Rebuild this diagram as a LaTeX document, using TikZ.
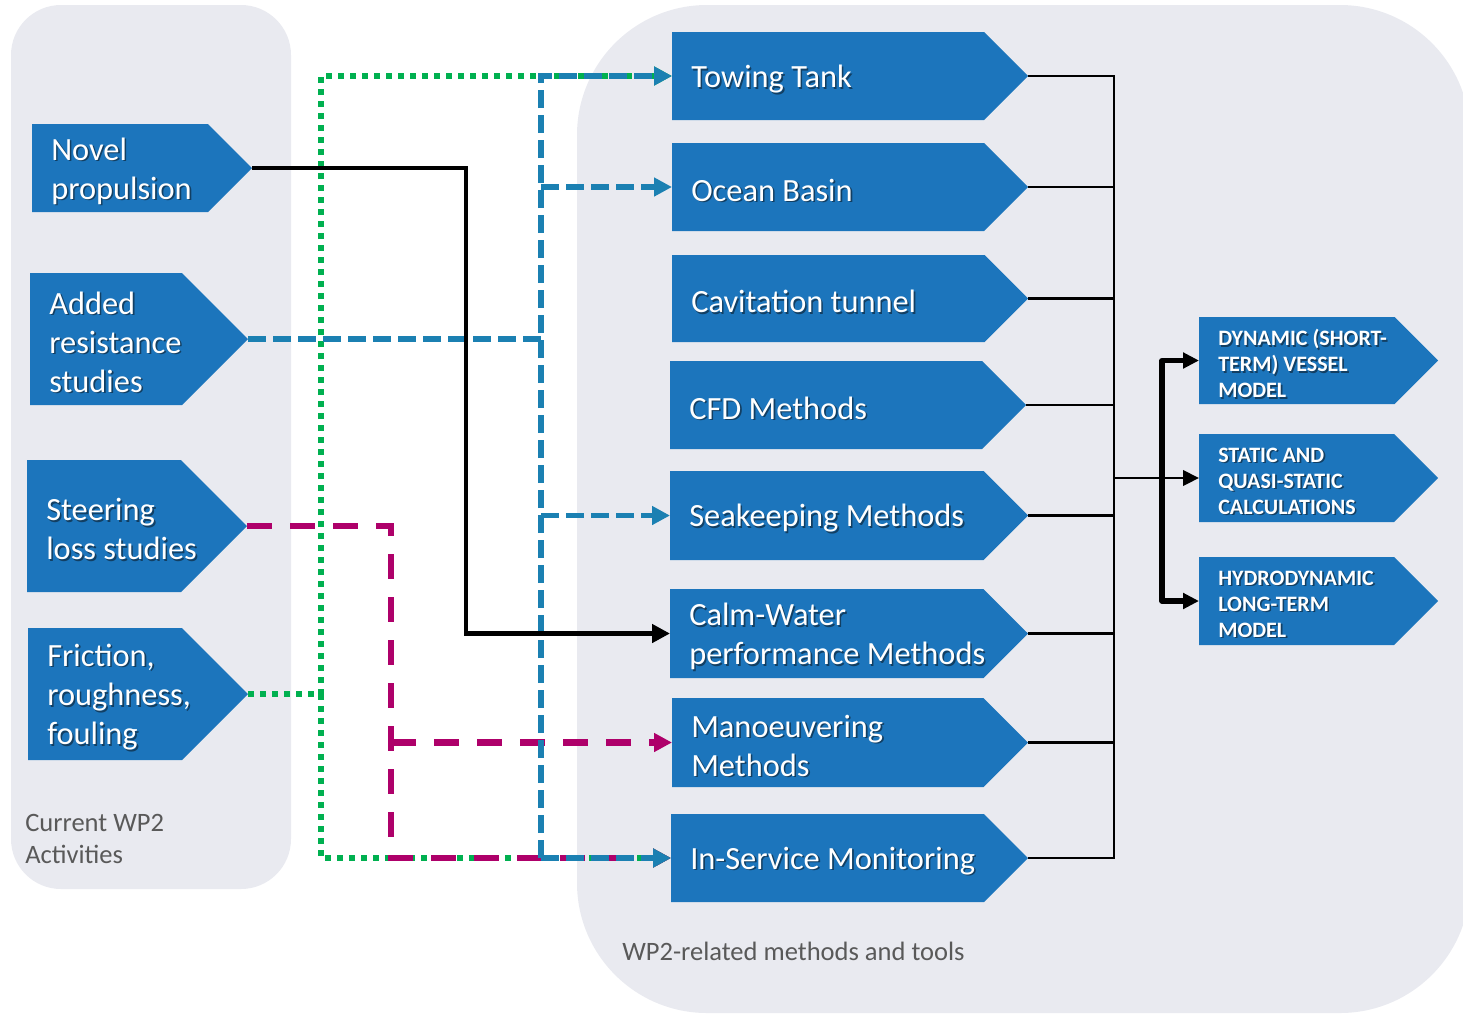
\documentclass[tikz,border=0pt]{standalone}
\usepackage{fontspec}
\setmainfont{Carlito}
\usetikzlibrary{arrows.meta}

\definecolor{panel}{HTML}{E9EAF0}
\definecolor{boxblue}{HTML}{1C75BC}
\definecolor{shadowc}{HTML}{123F63}
\definecolor{linkblue}{HTML}{1B80B2}
\definecolor{linkgreen}{HTML}{00B050}
\definecolor{linkmag}{HTML}{AE006A}
\definecolor{labelgray}{HTML}{595959}

% white label text with a soft drop shadow
\newcommand\sh[1]{\makebox[0pt][l]{\raisebox{-1.2pt}[0pt][0pt]{\hspace*{1.2pt}\textcolor{shadowc}{#1}}}#1}

% pentagon arrow box: name, left x, top y, bottom y, tip x, text style, text
\newcommand\mkbox[7]{%
  \fill[boxblue] (#2,#3) -- ({#5-(#4-#3)/2},#3) -- (#5,{(#3+#4)/2})
     -- ({#5-(#4-#3)/2},#4) -- (#2,#4) -- cycle;
  \coordinate (#1-l) at (#2,{(#3+#4)/2});
  \coordinate (#1-t) at (#5,{(#3+#4)/2});
  \node[#6,anchor=west] (#1) at ({#2+19},{(#3+#4)/2+3}) {#7};
}

\tikzset{
  boxtext/.style={text=white, font=\fontsize{24.3pt}{29.3pt}\selectfont, align=left, inner sep=0pt},
  captext/.style={text=white, font=\bfseries\fontsize{16.5pt}{19.5pt}\selectfont, align=left, inner sep=0pt},
  paneltext/.style={text=labelgray, font=\fontsize{19.9pt}{24pt}\selectfont, align=left, inner sep=0pt},
  greenlink/.style={draw=linkgreen, line width=4.3pt, dash pattern=on 4.3pt off 4.7pt},
  bluelink/.style={draw=linkblue, line width=4.4pt, dash pattern=on 13.5pt off 5.25pt},
  maglink/.style={draw=linkmag, line width=4.6pt, dash pattern=on 18.75pt off 13.5pt},
  mainlink/.style={draw=black, line width=3.7pt},
  buslink/.style={draw=black, line width=2.1pt},
  fatlink/.style={draw=black, line width=3.9pt, line join=round},
  colortip/.style={-{Triangle[length=13.5pt,width=13.5pt]}},
  bustip/.style={-{Triangle[length=12pt,width=11.5pt]}},
}

\begin{document}
\begin{tikzpicture}[x=0.75pt,y=-0.75pt]
\useasboundingbox (0,0) rectangle (1463,1015);

% background panels
\fill[panel, rounded corners=37.5pt] (11,5) rectangle (291,889);
\begin{scope}
  \clip (0,0) rectangle (1463,1015);
  \fill[panel, rounded corners=97.5pt] (577,5) rectangle (1470,1013);
\end{scope}

\node[paneltext,anchor=west] (curlabel) at (25,839) {Current WP2\\Activities};
\node[paneltext,anchor=west] (wplabel) at (622,951) {WP2-related methods and tools};

% current activities
\mkbox{nov}{32}{124}{212}{252}{boxtext}{\sh{Novel}\\\sh{propulsion}}
\mkbox{add}{30}{273}{405}{248}{boxtext}{\sh{Added}\\\sh{resistance}\\\sh{studies}}
\mkbox{ste}{27}{460}{592}{247}{boxtext}{\sh{Steering}\\\sh{loss studies}}
\mkbox{fri}{28}{628}{760}{248}{boxtext}{\sh{Friction,}\\\sh{roughness,}\\\sh{fouling}}

% methods and tools
\mkbox{tow}{672}{32}{120}{1028}{boxtext}{\sh{Towing Tank}}
\mkbox{oce}{672}{143}{231}{1028}{boxtext}{\sh{Ocean Basin}}
\mkbox{cav}{672}{255}{342}{1028}{boxtext}{\sh{Cavitation tunnel}}
\mkbox{cfd}{670}{361}{449}{1026}{boxtext}{\sh{CFD Methods}}
\mkbox{sea}{670}{471}{560}{1028}{boxtext}{\sh{Seakeeping Methods}}
\mkbox{cal}{670}{589}{678}{1028}{boxtext}{\sh{Calm-Water}\\\sh{performance Methods}}
\mkbox{man}{672}{698}{787}{1028}{boxtext}{\sh{Manoeuvering}\\\sh{Methods}}
\mkbox{ins}{671}{814}{902}{1028}{boxtext}{\sh{In-Service Monitoring}}

% models
\mkbox{dyn}{1199}{317}{404}{1438}{captext}{\sh{DYNAMIC (SHORT-}\\\sh{TERM) VESSEL}\\\sh{MODEL}}
\mkbox{sta}{1199}{434}{522}{1438}{captext}{\sh{STATIC AND}\\\sh{QUASI-STATIC}\\\sh{CALCULATIONS}}
\mkbox{hyd}{1199}{557}{645}{1438}{captext}{\sh{HYDRODYNAMIC}\\\sh{LONG-TERM}\\\sh{MODEL}}

% bus columns
\coordinate (gbus) at (321,0);
\coordinate (mbus) at (391,0);
\coordinate (kbus) at (466,0);
\coordinate (bbus) at (541,0);
\coordinate (rbus) at (1114,0);
\coordinate (fbus) at (1162,0);

% friction, roughness, fouling
\draw[greenlink,colortip] (fri-t) -| (gbus |- tow-l) -- (tow-l);
\draw[greenlink,colortip] (gbus |- fri-t) |- (ins-l);

% steering loss
\draw[maglink,colortip] (ste-t) -| (mbus |- ins-l) -- (ins-l);
\draw[maglink,colortip] (mbus |- man-l) -- (man-l);

% added resistance
\draw[bluelink] (add-t) -- (bbus |- add-t);
\draw[bluelink,colortip] (bbus |- ins-l) |- (tow-l);
\draw[bluelink,colortip] (bbus |- ins-l) -- (ins-l);
\draw[bluelink,colortip] (bbus |- oce-l) -- (oce-l);
\draw[bluelink,colortip] (bbus |- sea-l) -- (sea-l);

% novel propulsion
\draw[mainlink,colortip] (nov-t) -| (kbus |- cal-l) -- (cal-l);

% methods feed the models
\draw[buslink] (tow-t) -| (rbus |- ins-t) -- (ins-t);
\foreach \b in {oce,cav,cfd,sea,cal,man}
  \draw[buslink] (\b-t) -- (rbus |- \b-t);
\draw[buslink,bustip] (rbus |- sta-l) -- (sta-l);
\draw[fatlink,bustip] (fbus |- sta-l) |- (dyn-l);
\draw[fatlink,bustip] (fbus |- sta-l) |- (hyd-l);
\end{tikzpicture}
\end{document}
